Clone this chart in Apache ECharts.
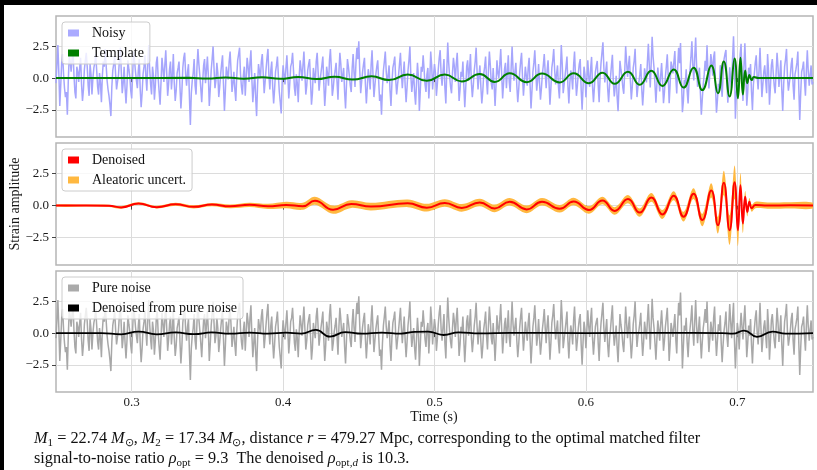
<!DOCTYPE html>
<html>
<head>
<meta charset="utf-8">
<script src="https://cdn.jsdelivr.net/npm/echarts@6/dist/echarts.min.js"></script>
<style>
html,body{margin:0;padding:0;background:#fff;}
#main{width:817px;height:470px;}
</style>
</head>
<body>
<div id="main"></div>
<script>
// pure detector noise, sampled every 1/1600 s from t = 0.25 s
var noiseStart = 0.25;
var noiseStep = 1 / 1600;
var pureNoise = [
 -0.4, 1.1, 2.6, 0.4, -2.2, -0.6, 1.2, 1.9, 0.3, -0.8, -1.5, -1.1, -2.9, -0.2, 1.8, 1.3, 0.5, 1.5, 2.2, 0.2, -1.1, -1.6, 0.9, 0.5, -0.3, 0.8, 1.6, -0.5, -1.8, -0.9, 0.7, 1.4, 2.0, 0.9, -0.6, -1.4, 1.1, 0.3, -1.3, 0.0,
 0.8, 1.2, 1.9, 0.6, -0.7, -1.3, 0.4, -0.4, -1.9, 0.2, 1.3, 0.9, 2.3, 1.0, -0.2, -0.9, -1.4, -2.1, -3.0, -0.7, 0.6, 1.1, 1.7, 0.3, -0.9, -0.3, 0.2, 1.4, 2.4, 0.5, -1.2, -0.4, 0.9, -0.8, -2.0, -0.6, 1.4, 0.7, 0.1, -1.0,
 -1.6, 0.3, 2.1, 1.4, 0.5, -0.2, -0.8, 0.6, 1.5, -0.9, -2.3, -1.2, 0.3, 0.9, 1.8, 0.1, -1.0, 1.2, 2.6, 0.7, -0.5, -1.3, 0.9, 0.2, -1.7, -0.6, 1.2, 1.7, 0.0, -1.1, -2.1, -0.3, 1.6, 0.8, -0.3, 1.0, 2.2, 0.4, -1.4, -0.5,
 0.7, 1.3, -0.9, 0.2, 1.9, -0.4, -1.8, -1.0, 0.4, 0.8, 1.3, -0.7, -2.4, -1.1, 0.8, 1.6, 2.0, 0.3, -0.6, 0.5, 1.1, -1.5, -3.7, -1.2, -0.2, 0.4, 1.5, -0.6, -1.3, 0.9, 2.3, 1.1, 0.2, -0.8, -1.9, -0.3, 1.0, 1.5, -0.4, 0.6,
 1.7, 0.2, -2.2, -0.9, 0.6, 1.5, 2.5, 0.8, -0.8, -0.2, 1.2, 0.4, -1.5, -0.7, 0.3, 1.1, 1.8, -0.5, -2.6, -1.0, 0.9, 0.4, -0.1, 1.3, 2.1, 0.6, -1.1, -0.4, 0.5, -0.9, -1.8, 0.1, 1.4, 1.9, 2.4, 0.3, -0.7, -1.3, 0.2, 0.9,
 -1.4, 0.1, 1.6, 0.9, -0.3, 1.2, 2.2, -0.1, -1.9, -0.8, 0.4, -1.5, -3.0, -0.6, 1.1, 0.5, 0.0, 1.3, 1.9, 0.4, -1.2, -0.3, 0.7, 1.6, 2.3, 0.2, -0.9, 0.6, 1.3, -0.7, -2.0, -0.9, 0.5, 1.0, 1.7, 0.2, -1.1, -1.9, -2.8, -0.4,
 1.0, 0.3, -0.5, 0.8, 1.8, 0.2, -1.6, -0.5, 0.9, 1.2, 2.0, 0.6, -0.8, -1.4, 0.3, -0.4, -1.9, 0.1, 1.4, 0.7, -0.2, 1.0, 2.1, 0.4, -1.3, -0.6, 0.6, 1.1, 1.5, -0.3, -2.1, -1.2, 0.8, 0.2, -0.4, 1.3, 2.0, 0.5, -1.0, -0.2,
 0.4, 1.0, 1.7, -0.4, -2.2, -1.0, 0.9, 0.3, -0.6, 1.4, 2.3, 0.7, -1.4, -0.8, 0.1, 0.6, 1.2, -0.3, -1.7, 0.5, 2.0, 1.1, -0.3, 0.2, 0.8, -1.1, -2.4, -0.5, 1.5, 0.9, 0.2, -0.6, -1.1, 0.8, 1.9, 0.4, -0.7, 1.2, 2.4, 1.5,
 2.9, 0.6, -1.2, -0.3, 0.5, 1.1, 1.6, -0.5, -2.0, -0.7, 0.7, 0.1, -0.9, 1.0, 2.2, 0.3, -1.5, -0.6, 0.3, 0.9, 1.4, -0.2, -1.8, -1.3, -2.9, -0.8, 0.6, 1.3, 2.1, 0.5, -0.4, 0.2, 1.0, -1.0, -2.2, -0.4, 0.8, 1.2, 1.7, -0.1,
 -1.3, -0.5, 0.2, 1.1, 2.0, 0.4, -0.8, 0.3, 1.3, -0.6, -1.9, -0.7, 0.6, 1.4, 2.5, 0.2, -1.1, -0.3, 0.4, -1.2, -2.1, -0.4, 1.2, 0.1, -2.6, -1.0, 0.9, 0.5, 1.8, 0.7, -0.5, -1.1, 0.3, 0.8, -1.6, -0.2, 2.1, 1.0, -0.9, 0.2,
 1.1, 0.4, -1.4, -0.5, 0.7, 1.6, 2.2, 0.3, -0.6, 0.5, 1.5, -0.8, -2.0, 0.6, 2.8, 1.2, 0.1, -0.7, -1.2, 0.4, 1.6, 0.9, -0.3, 1.1, 2.0, 0.2, -1.8, -0.9, 0.5, 0.1, 1.3, -0.6, -2.3, -0.8, 0.9, 1.4, -0.2, 0.7, 1.9, -0.4,
 -1.5, -0.6, 0.6, 1.3, 2.4, 0.5, -0.9, 0.2, 1.0, -0.7, -2.0, -1.1, 0.3, 0.9, 1.7, -0.2, -1.3, 0.6, 2.1, 1.0, -0.4, -0.9, 0.8, -0.5, -2.2, -0.6, 1.4, 0.4, 0.0, 1.1, 2.3, 0.3, -1.6, -0.4, 0.7, 1.2, -0.8, 0.5, 1.8, -0.3,
 -1.1, 0.8, 2.5, 0.7, -0.2, 0.5, 1.2, -0.6, -1.9, -0.9, 0.4, 1.3, 2.0, 0.1, -1.4, -0.3, 0.9, 0.2, -0.6, 0.8, 1.6, -0.5, -2.4, -1.0, 0.5, 1.2, 2.2, 0.6, -1.0, -0.2, 1.1, -0.4, -1.7, -0.8, 0.3, 1.0, 1.9, 0.4, -0.8, 0.6,
 1.4, -0.3, -2.1, -0.8, 0.8, 1.4, 2.3, 0.6, -0.5, 0.3, 1.0, -0.7, -1.6, 0.4, 2.6, 1.1, -1.2, -0.5, 0.2, 0.9, 1.7, -0.6, -2.0, -0.4, 0.6, 0.1, -0.9, 1.0, 2.1, 0.2, -1.4, -0.6, 0.4, 1.1, 1.5, -0.9, -2.5, -0.7, 0.9, 0.3,
 -1.2, 0.2, 1.8, 0.5, -0.3, 1.1, 2.0, -0.4, -1.7, -0.6, 0.5, 0.9, 1.2, -0.8, -2.2, -0.3, 0.8, 1.6, 2.4, 0.4, -0.7, 0.3, 1.1, -0.9, -1.9, -0.5, 0.3, 1.3, 2.2, 0.1, -1.0, -0.2, 0.6, -1.1, -2.3, -0.4, 1.5, 0.7, 0.1, -0.9,
 -1.5, 0.1, 2.1, 0.8, -0.4, 0.5, 1.3, -0.6, -2.0, -0.9, 0.7, 1.4, 2.5, 0.4, -1.1, -0.2, 0.2, 0.8, 1.6, -0.4, -1.8, -0.7, 0.9, 0.2, -0.5, 1.0, 2.3, 0.5, -1.3, 0.6, 2.7, 1.2, 0.4, -0.8, -2.1, -0.5, 1.0, 0.3, -0.6, 0.7,
 1.8, 0.4, -1.4, -0.6, 0.5, 1.2, 2.0, 0.1, -2.2, -0.9, 0.8, 0.3, -0.3, 0.6, 1.5, -0.5, -1.6, 0.7, 2.4, 1.4, 3.2, 0.5, -2.8, -1.1, 0.6, 0.2, 1.2, -0.7, -1.9, -0.4, 0.3, 1.1, 2.2, 0.2, -1.0, 0.9, 2.6, 0.6, -0.8, 0.3,
 1.3, -0.5, -2.0, -0.7, 0.4, 1.0, 1.9, 0.8, 2.5, 0.2, -1.5, -0.4, 0.9, 0.3, -0.6, 1.2, 2.1, -0.3, -1.8, -0.6, 0.7, 0.2, 1.4, -0.8, -2.3, -0.9, 0.2, 0.8, 1.7, -0.2, -1.1, 0.6, 2.3, 0.9, -0.4, 1.1, 2.4, -0.6, -2.8, -1.0,
 0.8, 0.2, -1.3, 0.4, 1.6, 0.5, -0.5, 1.0, 2.2, 0.3, -1.9, -0.8, 0.6, -0.2, 1.1, -0.9, -2.4, -0.6, 0.3, 1.2, 1.8, 0.1, -0.9, 0.6, 2.4, 0.4, -1.5, -0.5, 0.5, 1.0, -0.2, -1.2, 1.9, 0.6, -2.1, -0.7, 1.0, 1.5, 0.4, -0.6,
 -1.2, 0.4, 2.0, 0.9, -0.7, 0.2, 1.4, -0.9, -2.6, -0.5, 0.9, 1.5, 2.3, 0.1, -1.0, -0.4, 0.2, 1.1, 1.6, -0.6, -1.7, 0.3, 0.7, 1.2, 2.1, -0.8, -3.3, -1.2, 0.5, 0.8, 1.3, -0.2, -1.4, 0.6, 2.2, 0.5, -0.6, 0.3, 1.0, -0.5,
 -0.3
];
// noisy strain: identical to the noise outside 0.60-0.725 s; inside, noise plus the chirp
var tailFrom = 560;
var tailTo = 760;
var noisyTail = [
 -1.52, -0.16, 1.41, 0.1, -0.69, 0.73, 1.67, -0.67, -1.9, -0.72, 0.47, 0.96, 1.35, -0.57, -1.9, 0.06, 1.2, 2.03, 2.83, 0.8, -0.35, 0.58, 1.3, -0.8, -1.9, -0.61, 0.09, 1.0, 1.83, -0.32, -1.45, -0.65, 0.18, -1.48, -2.62, -0.63, 1.36, 0.66, 0.16, -0.74,
 -1.24, 0.45, 2.52, 1.28, 0.1, 0.99, 1.76, -0.2, -1.69, -0.7, 0.78, 1.35, 2.32, 0.1, -1.5, -0.68, -0.32, 0.27, 1.1, -0.84, -2.16, -0.95, 0.77, 0.21, -0.35, 1.29, 2.71, 1.0, -0.74, 1.18, 3.26, 1.7, 0.81, -0.51, -1.95, -0.51, 0.83, -0.02, -1.05, 0.15,
 1.19, -0.22, -1.99, -1.12, 0.09, 0.92, 1.87, 0.14, -1.99, -0.53, 1.3, 0.9, 0.37, 1.28, 2.14, 0.03, -1.21, 0.9, 2.4, 1.18, 2.77, -0.09, -2.7, -1.84, -0.13, -0.44, 0.7, -1.01, -2.01, -0.27, 0.66, 1.65, 2.91, 0.99, -0.18, 1.64, 3.2, 0.97, -0.69, 0.11,
 0.82, -1.2, -2.89, -1.65, -0.5, 0.25, 1.37, 0.56, 2.58, 0.59, -0.82, 0.47, 1.89, 1.28, 0.18, 1.67, 2.1, -0.78, -2.74, -1.75, -0.46, -0.7, 1.02, -0.56, -1.48, 0.3, 1.49, 1.9, 2.22, -0.33, -1.94, -0.7, 0.85, -0.25, -0.81, 1.57, 3.3, 0.95, -3.2, -1.16,
 -0.55, -1.27, -1.3, 1.85, 2.7, -0.12, -1.8, 0.85, 2.75, 0.6, -2.18, -1.1, 0.82, 0.05, 1.1, -1.05, -2.52, -0.55, 0.36, 1.2, 1.8, 0.1, -0.9, 0.6, 2.4, 0.4, -1.5, -0.5, 0.5, 1.0, -0.2, -1.2, 1.9, 0.6, -2.1, -0.7, 1.0, 1.5, 0.4, -0.6
];

// template waveform, turning points
var tplT = [0.25,0.3,0.338,0.35,0.362,0.374,0.386,0.398,0.41,0.422,0.4341,0.446,0.4584,0.47,0.4823,0.4949,0.5068,0.518,0.5299,0.5398,
 0.5497,0.5609,0.571,0.5827,0.5919,0.602,0.6109,0.619,0.6278,0.6355,0.6432,0.6505,0.658,0.6645,0.6711,0.6769,0.6828,0.6872,0.6911,0.6949,
 0.6982,0.7004,0.7021,0.7037,0.7052,0.7066,0.708,0.7095,0.711,0.714,0.75];
var tplV = [0,0,0.02,-0.03,0.05,-0.05,0.06,-0.06,0.08,-0.08,0.1,-0.12,0.14,-0.16,0.28,-0.22,0.28,-0.26,0.32,-0.3,
 0.38,-0.32,0.36,-0.34,0.38,-0.4,0.43,-0.45,0.5,-0.53,0.58,-0.62,0.68,-0.75,0.82,-0.95,1.0,-1.2,1.3,-1.45,
 1.55,-1.6,1.6,-1.3,0.6,-0.4,0.25,-0.15,0.08,0,0];

// denoised output and its aleatoric half-width
var denT = [0.25,0.27,0.285,0.293,0.3045,0.3165,0.329,0.341,0.353,0.365,0.378,0.39,0.402,0.413,0.421,0.433,0.445,0.458,0.4823,0.4949,
 0.5068,0.518,0.5299,0.5398,0.5497,0.5609,0.571,0.5827,0.5919,0.602,0.6109,0.619,0.6278,0.6355,0.6432,0.6505,0.658,0.6645,0.6711,0.6769,
 0.6828,0.6872,0.6911,0.6949,0.6982,0.7004,0.7021,0.7037,0.7052,0.7066,0.708,0.7095,0.712,0.72,0.735,0.75];
var denV = [0,0,-0.02,-0.14,0.16,-0.12,0.1,-0.1,0.08,-0.06,0.06,-0.06,0.05,-0.05,0.38,-0.32,0.12,-0.08,0.18,-0.16,
 0.2,-0.18,0.24,-0.22,0.3,-0.3,0.3,-0.25,0.32,-0.34,0.4,-0.42,0.51,-0.55,0.64,-0.69,0.77,-0.87,0.93,-1.13,
 1.19,-1.53,1.78,-1.93,1.83,-1.93,1.6,-1.4,0.7,-0.5,0.3,-0.2,0.05,0,0.02,0];
var uncU = [0.08,0.08,0.09,0.1,0.1,0.1,0.12,0.12,0.13,0.15,0.17,0.2,0.25,0.28,0.32,0.32,0.3,0.3,0.3,0.3,
 0.3,0.3,0.3,0.3,0.3,0.3,0.3,0.3,0.3,0.3,0.3,0.3,0.32,0.32,0.34,0.35,0.36,0.38,0.42,0.48,
 0.55,0.65,0.95,1.15,1.3,1.25,0.95,0.75,0.45,0.35,0.3,0.28,0.26,0.25,0.25,0.22];

// denoised output when the input is pure noise
var blkT = [0.25,0.28,0.293,0.3045,0.3165,0.329,0.341,0.353,0.365,0.378,0.39,0.402,0.412,0.4216,0.431,0.441,0.452,0.465,0.478,0.487,
 0.4957,0.506,0.516,0.53,0.55,0.6,0.65,0.69,0.697,0.7045,0.713,0.7233,0.732,0.75];
var blkV = [0,0,-0.1,0.12,-0.1,0.05,-0.08,0.05,-0.05,0.04,-0.04,0.03,-0.04,0.25,-0.28,0.08,-0.05,0.04,-0.04,0.1,
 0.12,-0.15,0.05,-0.03,0.02,0,0.02,0,-0.05,0.2,-0.3,0.12,-0.05,0];

var xTicks = [0.3, 0.4, 0.5, 0.6, 0.7];
var yTicks = [-2.5, 0, 2.5];

function pairs(ts, vs) {
  var out = [];
  for (var k = 0; k < ts.length; k++) out.push([ts[k], vs[k]]);
  return out;
}
function sampled(vs) {
  var out = [];
  for (var k = 0; k < vs.length; k++) out.push([noiseStart + k * noiseStep, vs[k]]);
  return out;
}
var noisy = pureNoise.slice(0, tailFrom).concat(noisyTail, pureNoise.slice(tailTo));

var serif = 'Liberation Serif';
var gridTops = [16, 143, 271];
var gridHeights = [121, 122, 121];

function xAxisFor(i) {
  return {
    type: 'value', gridIndex: i, min: 0.25, max: 0.75,
    axisLine: {show: false},
    axisTick: {show: true, length: 4, customValues: xTicks, lineStyle: {color: '#444', width: 1}},
    axisLabel: {show: i === 2, customValues: xTicks, margin: 4,
      formatter: function (v) { return v.toFixed(1); },
      fontFamily: serif, fontSize: 13, color: '#1a1a1a'},
    splitLine: {show: true, lineStyle: {color: '#dcdcdc', width: 1}}
  };
}
function yAxisFor(i) {
  return {
    type: 'value', gridIndex: i, min: -4.65, max: 4.9,
    axisLine: {show: false},
    axisTick: {show: true, length: 4, customValues: yTicks, lineStyle: {color: '#444', width: 1}},
    axisLabel: {customValues: yTicks, margin: 7,
      formatter: function (v) { return (v < 0 ? '\u2212' : '') + Math.abs(v).toFixed(1); },
      fontFamily: serif, fontSize: 13, color: '#1a1a1a'},
    splitLine: {show: true, lineStyle: {color: '#dcdcdc', width: 1}}
  };
}
function legendAt(top, names) {
  return {
    data: names, left: 62, top: top, orient: 'vertical', icon: 'rect',
    itemWidth: 11, itemHeight: 7, itemGap: 6, padding: [4, 6, 4, 6],
    backgroundColor: 'rgba(255,255,255,0.8)', borderColor: '#cccccc', borderWidth: 1, borderRadius: 3,
    selectedMode: false, itemStyle: {borderWidth: 0},
    textStyle: {fontFamily: serif, fontSize: 14, color: '#111', lineHeight: 14, padding: [0, 0, 0, 8]}
  };
}

var chart = echarts.init(document.getElementById('main'));
var option = {
  animation: false,
  backgroundColor: '#ffffff',
  grid: [0, 1, 2].map(function (i) {
    return {left: 56, top: gridTops[i], width: 757, height: gridHeights[i],
      show: true, borderColor: '#b5b5b5', borderWidth: 1.5, backgroundColor: 'transparent'};
  }),
  xAxis: [xAxisFor(0), xAxisFor(1), xAxisFor(2)],
  yAxis: [yAxisFor(0), yAxisFor(1), yAxisFor(2)],
  legend: [
    legendAt(22, ['Noisy', 'Template']),
    legendAt(149, ['Denoised', 'Aleatoric uncert.']),
    legendAt(277, ['Pure noise', 'Denoised from pure noise'])
  ],
  series: [
    {name: 'Noisy', type: 'line', xAxisIndex: 0, yAxisIndex: 0, data: sampled(noisy),
      symbol: 'none', lineStyle: {color: '#a6a6fc', width: 1.5}, itemStyle: {color: '#aaaaff'}, z: 2},
    {name: 'Template', type: 'line', xAxisIndex: 0, yAxisIndex: 0, data: pairs(tplT, tplV), smooth: true,
      symbol: 'none', lineStyle: {color: '#008000', width: 2}, itemStyle: {color: '#008000'}, z: 3},
    {name: 'Aleatoric uncert.', type: 'custom', xAxisIndex: 1, yAxisIndex: 1, data: [[0.5, 0]],
      clip: true, silent: true, itemStyle: {color: '#ffb840'}, z: 2,
      renderItem: function (params, api) {
        var up = [], lo = [];
        for (var k = 0; k < denT.length; k++) {
          up.push(api.coord([denT[k], denV[k] + uncU[k]]));
          lo.unshift(api.coord([denT[k], denV[k] - uncU[k]]));
        }
        return {type: 'polygon', shape: {points: up.concat(lo), smooth: 0.35}, style: {fill: '#ffb840'}};
      }},
    {name: 'Denoised', type: 'line', xAxisIndex: 1, yAxisIndex: 1, data: pairs(denT, denV), smooth: true,
      symbol: 'none', lineStyle: {color: '#ff0000', width: 2}, itemStyle: {color: '#ff0000'}, z: 3},
    {name: 'Pure noise', type: 'line', xAxisIndex: 2, yAxisIndex: 2, data: sampled(pureNoise),
      symbol: 'none', lineStyle: {color: '#a8a8a8', width: 1.5}, itemStyle: {color: '#aaaaaa'}, z: 2},
    {name: 'Denoised from pure noise', type: 'line', xAxisIndex: 2, yAxisIndex: 2, data: pairs(blkT, blkV), smooth: true,
      symbol: 'none', lineStyle: {color: '#000000', width: 1.8}, itemStyle: {color: '#000000'}, z: 3}
  ],
  graphic: [
    {type: 'rect', left: 0, top: 0, shape: {width: 817, height: 5}, style: {fill: '#000'}, z: 100},
    {type: 'rect', left: 0, top: 0, shape: {width: 4, height: 470}, style: {fill: '#000'}, z: 100},
    {type: 'text', x: 15, y: 204, rotation: Math.PI / 2,
      style: {text: 'Strain amplitude', font: '14px "Liberation Serif"', fill: '#1a1a1a', align: 'center', verticalAlign: 'middle'}},
    {type: 'text', x: 434, y: 417,
      style: {text: 'Time (s)', font: '14px "Liberation Serif"', fill: '#1a1a1a', align: 'center', verticalAlign: 'middle'}},
    {type: 'text', x: 34, y: 429,
      style: {
        text: '{i|M}{s|1} = 22.74 {i|M}{s|\u2299}, {i|M}{s|2} = 17.34 {i|M}{s|\u2299}, distance {i|r} = 479.27 Mpc, corresponding to the optimal matched filter\n' +
              'signal-to-noise ratio {i|\u03c1}{s|opt} = 9.3  The denoised {i|\u03c1}{s|opt,}{si|d} is 10.3.',
        font: '16.3px "Liberation Serif"', fill: '#111', lineHeight: 20, verticalAlign: 'top',
        rich: {
          i: {fontFamily: serif, fontStyle: 'italic', fontSize: 16.3, lineHeight: 20},
          s: {fontFamily: serif, fontSize: 11, lineHeight: 12, verticalAlign: 'bottom'},
          si: {fontFamily: serif, fontStyle: 'italic', fontSize: 11, lineHeight: 12, verticalAlign: 'bottom'}
        }
      }}
  ]
};
chart.setOption(option);
</script>
</body>
</html>
